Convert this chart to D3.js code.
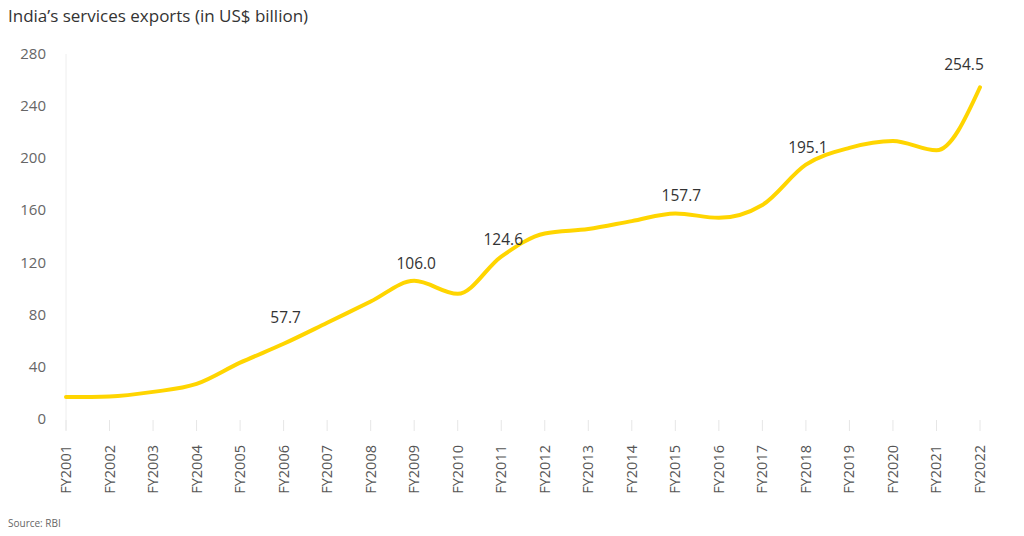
<!DOCTYPE html>
<html><head><meta charset="utf-8">
<script src="https://cdn.jsdelivr.net/npm/d3@7"></script>
<style>body{margin:0;background:#fff;font-family:"Open Sans",sans-serif;}</style>
</head><body><div id="chart"></div>
<script>
let years=["FY2001","FY2002","FY2003","FY2004","FY2005","FY2006","FY2007","FY2008","FY2009","FY2010","FY2011","FY2012","FY2013","FY2014","FY2015","FY2016","FY2017","FY2018","FY2019","FY2020","FY2021","FY2022"];
let exportsBn=[16.8,17.3,20.8,26.9,43.2,57.7,73.8,90.1,106.0,96.0,124.6,142.3,145.7,151.8,157.7,154.3,164.2,195.1,208.0,213.2,206.1,254.5];
let labelled=["FY2006","FY2009","FY2011","FY2015","FY2018","FY2022"];
let yTicks=[0,40,80,120,160,200,240,280];

let W=1024,H=536;
let svg=d3.select("#chart").append("svg").attr("width",W).attr("height",H);
let x=d3.scalePoint().domain(years).range([66,980]);
let y=d3.scaleLinear().domain([0,280]).range([419,54]);

svg.append("text").attr("x",8).attr("y",22).attr("font-size",17).attr("fill","#333").text("India\u2019s services exports (in US$ billion)");

//y axis labels
svg.selectAll(".yt").data(yTicks).enter().append("text")
  .attr("x",46).attr("y",d=>y(d)+5).attr("text-anchor","end")
  .attr("font-size",15).attr("fill","#666").text(d=>d);
svg.append("line").attr("x1",66).attr("x2",66).attr("y1",54).attr("y2",430).attr("stroke","#eee");
//x ticks
svg.selectAll(".xt").data(years).enter().append("line")
  .attr("x1",d=>x(d)).attr("x2",d=>x(d)).attr("y1",420).attr("y2",431).attr("stroke","#e6e6e6");
svg.selectAll(".xl").data(years).enter().append("text")
  .attr("transform",d=>"translate("+(x(d)+5)+",445) rotate(-90)")
  .attr("text-anchor","end").attr("font-size",14.5).attr("fill","#555").text(d=>d);

let line=d3.line().x((d,i)=>x(years[i])).y(d=>y(d)).curve(d3.curveMonotoneX);
svg.append("path").datum(exportsBn).attr("fill","none").attr("stroke","#FFD500")
  .attr("stroke-width",4).attr("stroke-linecap","round").attr("d",line);

svg.selectAll(".vl").data(labelled).enter().append("text")
  .attr("x",d=>x(d)+(d==="FY2022"?-16:d==="FY2015"?6:2))
  .attr("y",d=>y(exportsBn[years.indexOf(d)])-(d==="FY2022"?17:d==="FY2006"?21:12))
  .attr("text-anchor","middle").attr("font-size",15.5).attr("fill","#333")
  .text(d=>exportsBn[years.indexOf(d)].toFixed(1));

svg.append("text").attr("x",8).attr("y",527).attr("font-size",10).attr("fill","#666").text("Source: RBI");
</script></body></html>
